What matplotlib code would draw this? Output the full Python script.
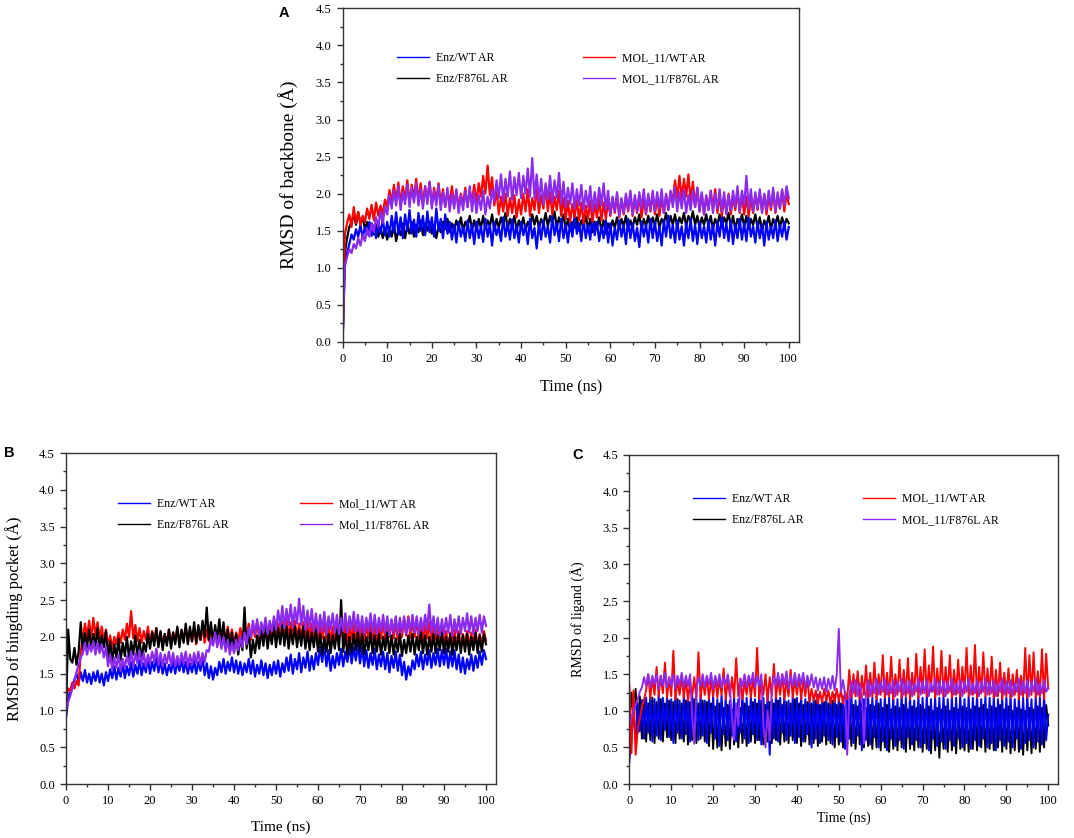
import numpy as np
import matplotlib
matplotlib.use('Agg')
import matplotlib.pyplot as plt
from matplotlib.lines import Line2D
from matplotlib.ticker import MultipleLocator

# 字型設定: Times 風格的襯線字
plt.rcParams['font.family'] = ['Liberation Serif', 'DejaVu Serif']
plt.rcParams['axes.unicode_minus'] = False

# ---- 資料 (RMSD, Å), 每 0.5 ns 一點, 0-100 ns ----
# Panel A: backbone
a_enz_wt = [
    0.00, 1.05, 1.20, 1.32, 1.45, 1.38, 1.52, 1.42, 1.58, 1.40, 1.55, 1.45, 1.62, 1.43, 1.57, 1.40, 1.60, 1.46, 1.66, 1.44,
    1.62, 1.42, 1.70, 1.48, 1.75, 1.45, 1.68, 1.40, 1.72, 1.50, 1.78, 1.46, 1.65, 1.42, 1.74, 1.50, 1.70, 1.44, 1.76, 1.48,
    1.68, 1.42, 1.80, 1.50, 1.66, 1.40, 1.72, 1.46, 1.62, 1.38, 1.58, 1.34, 1.62, 1.42, 1.55, 1.36, 1.64, 1.40, 1.58, 1.32,
    1.62, 1.40, 1.56, 1.35, 1.66, 1.42, 1.58, 1.30, 1.62, 1.44, 1.55, 1.36, 1.68, 1.42, 1.60, 1.38, 1.65, 1.40, 1.57, 1.34,
    1.62, 1.44, 1.58, 1.32, 1.66, 1.40, 1.54, 1.26, 1.60, 1.38, 1.64, 1.42, 1.56, 1.34, 1.70, 1.44, 1.60, 1.36, 1.66, 1.40,
    1.58, 1.34, 1.62, 1.42, 1.72, 1.46, 1.60, 1.36, 1.66, 1.40, 1.58, 1.38, 1.70, 1.44, 1.62, 1.36, 1.56, 1.40, 1.64, 1.34,
    1.60, 1.30, 1.55, 1.38, 1.64, 1.42, 1.58, 1.32, 1.66, 1.40, 1.60, 1.36, 1.54, 1.28, 1.62, 1.42, 1.58, 1.34, 1.66, 1.40,
    1.62, 1.36, 1.56, 1.30, 1.64, 1.42, 1.70, 1.40, 1.58, 1.34, 1.64, 1.38, 1.56, 1.30, 1.60, 1.40, 1.66, 1.36, 1.58, 1.32,
    1.62, 1.40, 1.56, 1.34, 1.64, 1.38, 1.58, 1.30, 1.62, 1.42, 1.70, 1.40, 1.60, 1.36, 1.64, 1.32, 1.58, 1.40, 1.66, 1.38,
    1.60, 1.36, 1.68, 1.42, 1.56, 1.34, 1.62, 1.40, 1.58, 1.30, 1.62, 1.38, 1.56, 1.40, 1.64, 1.36, 1.58, 1.42, 1.62, 1.38,
    1.55]
a_enz_f876l = [
    0.00, 1.20, 1.40, 1.55, 1.62, 1.72, 1.58, 1.75, 1.60, 1.68, 1.52, 1.62, 1.48, 1.60, 1.45, 1.58, 1.42, 1.55, 1.40, 1.52,
    1.38, 1.55, 1.42, 1.58, 1.36, 1.52, 1.44, 1.60, 1.40, 1.56, 1.46, 1.62, 1.42, 1.58, 1.48, 1.64, 1.44, 1.60, 1.50, 1.62,
    1.46, 1.58, 1.40, 1.56, 1.48, 1.62, 1.52, 1.66, 1.48, 1.60, 1.50, 1.64, 1.54, 1.68, 1.50, 1.62, 1.56, 1.70, 1.52, 1.64,
    1.50, 1.66, 1.54, 1.70, 1.52, 1.64, 1.56, 1.72, 1.50, 1.66, 1.54, 1.68, 1.58, 1.74, 1.52, 1.66, 1.56, 1.70, 1.50, 1.64,
    1.54, 1.68, 1.50, 1.62, 1.56, 1.72, 1.58, 1.70, 1.54, 1.66, 1.58, 1.74, 1.56, 1.70, 1.60, 1.76, 1.54, 1.68, 1.58, 1.72,
    1.52, 1.66, 1.50, 1.62, 1.54, 1.68, 1.50, 1.64, 1.56, 1.70, 1.52, 1.66, 1.48, 1.62, 1.54, 1.68, 1.50, 1.64, 1.46, 1.60,
    1.50, 1.64, 1.54, 1.68, 1.52, 1.66, 1.56, 1.70, 1.50, 1.64, 1.54, 1.68, 1.58, 1.72, 1.52, 1.66, 1.56, 1.70, 1.54, 1.68,
    1.58, 1.72, 1.54, 1.66, 1.60, 1.74, 1.56, 1.70, 1.58, 1.72, 1.54, 1.68, 1.60, 1.74, 1.56, 1.70, 1.62, 1.76, 1.58, 1.70,
    1.54, 1.68, 1.58, 1.72, 1.56, 1.70, 1.52, 1.66, 1.58, 1.72, 1.54, 1.68, 1.60, 1.74, 1.56, 1.70, 1.52, 1.66, 1.58, 1.72,
    1.56, 1.70, 1.52, 1.66, 1.58, 1.72, 1.54, 1.68, 1.50, 1.64, 1.56, 1.70, 1.52, 1.66, 1.58, 1.70, 1.54, 1.68, 1.56, 1.66,
    1.60]
a_mol_wt = [
    0.00, 1.45, 1.60, 1.72, 1.55, 1.82, 1.60, 1.75, 1.58, 1.70, 1.62, 1.80, 1.66, 1.85, 1.64, 1.88, 1.70, 1.84, 1.72, 1.92,
    1.82, 2.05, 1.88, 2.12, 1.90, 2.15, 1.86, 2.10, 1.92, 2.18, 1.88, 2.12, 1.94, 2.20, 1.90, 2.14, 1.86, 2.10, 1.92, 2.16,
    1.84, 2.08, 1.90, 2.14, 1.86, 2.06, 1.82, 2.02, 1.88, 2.10, 1.84, 2.04, 1.80, 2.00, 1.86, 2.08, 1.82, 2.04, 1.90, 2.12,
    1.88, 2.14, 1.96, 2.24, 2.00, 2.38, 1.98, 2.22, 1.84, 2.06, 1.72, 1.96, 1.76, 2.00, 1.70, 1.94, 1.74, 1.98, 1.68, 1.92,
    1.72, 2.00, 1.76, 2.06, 1.70, 1.94, 1.78, 2.08, 1.74, 1.98, 1.80, 2.10, 1.76, 2.02, 1.72, 1.96, 1.78, 2.04, 1.70, 1.94,
    1.66, 1.90, 1.62, 1.86, 1.68, 1.92, 1.64, 1.88, 1.60, 1.84, 1.66, 1.90, 1.62, 1.86, 1.68, 1.92, 1.64, 1.88, 1.66, 1.90,
    1.70, 1.94, 1.74, 1.98, 1.68, 1.92, 1.72, 1.96, 1.76, 2.00, 1.70, 1.94, 1.74, 1.98, 1.68, 1.92, 1.72, 1.96, 1.76, 2.00,
    1.72, 1.96, 1.70, 1.94, 1.74, 1.98, 1.78, 2.02, 1.90, 2.18, 1.94, 2.24, 1.92, 2.20, 1.96, 2.26, 1.90, 2.16, 1.82, 2.08,
    1.76, 2.00, 1.72, 1.96, 1.78, 2.04, 1.80, 2.06, 1.74, 1.98, 1.70, 1.94, 1.76, 2.00, 1.72, 1.96, 1.78, 2.02, 1.74, 1.98,
    1.72, 1.96, 1.70, 1.92, 1.74, 1.98, 1.78, 2.02, 1.76, 1.98, 1.72, 1.96, 1.78, 2.02, 1.74, 1.98, 1.80, 2.04, 1.76, 2.00,
    1.86]
a_mol_f876l = [
    0.00, 1.02, 1.15, 1.25, 1.20, 1.32, 1.26, 1.40, 1.30, 1.45, 1.36, 1.52, 1.42, 1.60, 1.48, 1.68, 1.55, 1.76, 1.60, 1.82,
    1.72, 1.98, 1.80, 2.04, 1.84, 2.10, 1.78, 2.02, 1.86, 2.12, 1.82, 2.08, 1.88, 2.14, 1.84, 2.06, 1.80, 2.10, 1.86, 2.16,
    1.80, 2.04, 1.84, 2.12, 1.78, 2.02, 1.82, 2.08, 1.76, 2.00, 1.80, 2.06, 1.74, 1.98, 1.78, 2.04, 1.82, 2.10, 1.76, 2.02,
    1.74, 1.98, 1.78, 2.04, 1.72, 1.96, 1.80, 2.06, 1.90, 2.18, 1.94, 2.26, 1.90, 2.20, 1.96, 2.30, 1.92, 2.22, 1.98, 2.28,
    1.94, 2.24, 2.00, 2.34, 1.96, 2.48, 1.94, 2.26, 1.90, 2.20, 1.86, 2.14, 1.92, 2.24, 1.88, 2.18, 1.94, 2.28, 1.86, 2.16,
    1.82, 2.08, 1.86, 2.14, 1.80, 2.06, 1.84, 2.12, 1.78, 2.04, 1.82, 2.10, 1.76, 2.02, 1.80, 2.08, 1.84, 2.14, 1.78, 2.04,
    1.72, 1.96, 1.76, 2.02, 1.70, 1.94, 1.74, 2.00, 1.78, 2.04, 1.72, 1.98, 1.76, 2.02, 1.80, 2.06, 1.74, 2.00, 1.78, 2.04,
    1.76, 2.02, 1.80, 2.06, 1.74, 2.00, 1.78, 2.04, 1.82, 2.08, 1.76, 2.02, 1.80, 2.06, 1.74, 1.98, 1.78, 2.04, 1.82, 2.08,
    1.76, 2.02, 1.72, 1.98, 1.78, 2.04, 1.74, 2.00, 1.80, 2.06, 1.76, 2.02, 1.72, 1.98, 1.78, 2.04, 1.82, 2.10, 1.76, 2.04,
    1.84, 2.24, 1.80, 2.06, 1.76, 2.02, 1.80, 2.06, 1.74, 2.00, 1.78, 2.04, 1.82, 2.08, 1.76, 2.02, 1.80, 2.06, 1.84, 2.10,
    1.94]

# Panel B: binding pocket
b_enz_wt = [
    0.90, 1.15, 1.28, 1.35, 1.42, 1.50, 1.38, 1.52, 1.40, 1.55, 1.38, 1.50, 1.36, 1.52, 1.40, 1.54, 1.38, 1.50, 1.34, 1.52,
    1.40, 1.56, 1.44, 1.60, 1.42, 1.58, 1.46, 1.64, 1.44, 1.60, 1.48, 1.66, 1.46, 1.62, 1.50, 1.68, 1.48, 1.64, 1.52, 1.70,
    1.50, 1.66, 1.54, 1.72, 1.52, 1.68, 1.50, 1.64, 1.48, 1.62, 1.52, 1.68, 1.50, 1.66, 1.54, 1.70, 1.52, 1.66, 1.50, 1.64,
    1.52, 1.68, 1.50, 1.66, 1.54, 1.72, 1.48, 1.64, 1.44, 1.60, 1.42, 1.58, 1.48, 1.66, 1.52, 1.70, 1.50, 1.66, 1.54, 1.72,
    1.52, 1.68, 1.50, 1.66, 1.48, 1.64, 1.52, 1.70, 1.50, 1.68, 1.46, 1.62, 1.50, 1.68, 1.48, 1.64, 1.44, 1.62, 1.48, 1.66,
    1.50, 1.68, 1.46, 1.64, 1.52, 1.72, 1.54, 1.76, 1.50, 1.70, 1.56, 1.78, 1.52, 1.72, 1.58, 1.80, 1.54, 1.74, 1.56, 1.78,
    1.62, 1.86, 1.66, 1.90, 1.60, 1.82, 1.54, 1.74, 1.58, 1.78, 1.62, 1.84, 1.60, 1.80, 1.66, 1.88, 1.64, 1.86, 1.68, 1.90,
    1.64, 1.86, 1.60, 1.82, 1.58, 1.78, 1.62, 1.84, 1.56, 1.76, 1.60, 1.80, 1.56, 1.78, 1.52, 1.74, 1.58, 1.80, 1.54, 1.76,
    1.48, 1.66, 1.42, 1.60, 1.48, 1.68, 1.56, 1.76, 1.60, 1.80, 1.56, 1.76, 1.62, 1.82, 1.58, 1.78, 1.62, 1.84, 1.60, 1.82,
    1.62, 1.84, 1.58, 1.80, 1.60, 1.82, 1.56, 1.76, 1.52, 1.72, 1.50, 1.70, 1.56, 1.76, 1.54, 1.74, 1.58, 1.80, 1.62, 1.82,
    1.70]
b_enz_f876l = [
    1.00, 2.10, 1.70, 1.65, 1.85, 1.62, 1.80, 2.20, 1.82, 2.05, 1.86, 2.10, 1.84, 2.04, 1.88, 2.12, 1.82, 2.02, 1.86, 2.08,
    1.70, 1.94, 1.66, 1.90, 1.72, 1.98, 1.68, 1.92, 1.74, 2.00, 1.70, 1.94, 1.76, 2.02, 1.72, 1.96, 1.68, 1.92, 1.80, 2.04,
    1.84, 2.06, 1.88, 2.12, 1.86, 2.08, 1.82, 2.04, 1.88, 2.10, 1.84, 2.06, 1.90, 2.14, 1.86, 2.10, 1.92, 2.18, 1.90, 2.14,
    1.94, 2.20, 1.92, 2.16, 1.96, 2.22, 2.00, 2.40, 1.96, 2.20, 1.92, 2.16, 1.96, 2.24, 1.94, 2.20, 1.88, 2.10, 1.84, 2.06,
    1.80, 2.04, 1.76, 2.00, 1.82, 2.40, 1.84, 2.08, 1.72, 1.96, 1.78, 2.02, 1.84, 2.10, 1.88, 2.14, 1.84, 2.08, 1.90, 2.16,
    1.86, 2.12, 1.90, 2.16, 1.88, 2.14, 1.84, 2.10, 1.90, 2.14, 1.86, 2.10, 1.88, 2.14, 1.84, 2.08, 1.82, 2.06, 1.86, 2.10,
    1.80, 2.04, 1.76, 2.00, 1.80, 2.04, 1.78, 2.02, 1.84, 2.10, 1.82, 2.50, 1.80, 2.04, 1.76, 2.00, 1.78, 2.04, 1.82, 2.06,
    1.80, 2.04, 1.76, 2.00, 1.82, 2.06, 1.78, 2.02, 1.80, 2.04, 1.76, 2.00, 1.82, 2.06, 1.78, 2.02, 1.76, 1.98, 1.80, 2.04,
    1.74, 1.96, 1.78, 2.02, 1.80, 2.04, 1.76, 2.00, 1.82, 2.06, 1.78, 2.02, 1.76, 2.00, 1.80, 2.04, 1.78, 2.02, 1.82, 2.06,
    1.78, 2.00, 1.80, 2.04, 1.76, 2.00, 1.82, 2.04, 1.78, 2.02, 1.80, 2.04, 1.76, 2.00, 1.82, 2.06, 1.78, 2.02, 1.80, 2.04,
    1.90]
b_mol_wt = [
    1.20, 1.30, 1.26, 1.38, 1.30, 1.40, 1.34, 1.80, 1.98, 2.18, 2.00, 2.22, 1.96, 2.26, 2.02, 2.20, 1.98, 2.14, 1.94, 2.10,
    1.86, 2.02, 1.84, 2.00, 1.90, 2.06, 1.92, 2.10, 1.96, 2.18, 2.00, 2.35, 1.98, 2.16, 1.94, 2.12, 1.92, 2.08, 1.96, 2.14,
    1.90, 2.08, 1.94, 2.12, 1.90, 2.06, 1.88, 2.04, 1.92, 2.10, 1.90, 2.06, 1.94, 2.12, 1.92, 2.08, 1.96, 2.14, 1.92, 2.10,
    1.94, 2.12, 1.90, 2.08, 1.96, 2.14, 1.92, 2.10, 1.94, 2.12, 1.90, 2.06, 1.94, 2.12, 1.92, 2.08, 1.96, 2.14, 1.94, 2.10,
    1.90, 2.06, 1.94, 2.12, 1.96, 2.14, 1.98, 2.18, 1.96, 2.16, 2.00, 2.20, 1.98, 2.18, 2.02, 2.22, 1.98, 2.16, 2.00, 2.20,
    1.96, 2.18, 2.00, 2.22, 2.02, 2.24, 1.98, 2.20, 2.00, 2.22, 1.96, 2.18, 1.98, 2.20, 2.00, 2.24, 1.96, 2.18, 1.98, 2.20,
    1.94, 2.16, 1.98, 2.20, 1.96, 2.18, 1.92, 2.14, 1.96, 2.18, 1.94, 2.16, 1.98, 2.20, 1.94, 2.14, 1.96, 2.18, 1.92, 2.14,
    1.96, 2.18, 1.94, 2.16, 1.98, 2.20, 1.96, 2.18, 1.94, 2.16, 1.98, 2.22, 1.96, 2.18, 2.00, 2.22, 1.98, 2.20, 1.96, 2.18,
    2.00, 2.24, 2.02, 2.28, 1.98, 2.22, 2.00, 2.24, 1.96, 2.18, 1.94, 2.16, 1.98, 2.20, 1.92, 2.14, 1.96, 2.18, 1.90, 2.12,
    1.88, 2.08, 1.86, 2.06, 1.90, 2.10, 1.88, 2.08, 1.84, 2.04, 1.88, 2.08, 1.86, 2.06, 1.90, 2.10, 1.86, 2.04, 1.88, 2.08,
    1.95]
b_mol_f876l = [
    1.00, 1.12, 1.20, 1.30, 1.40, 1.52, 1.62, 1.72, 1.78, 1.92, 1.76, 1.90, 1.80, 1.94, 1.76, 1.92, 1.78, 1.90, 1.72, 1.86,
    1.60, 1.76, 1.56, 1.72, 1.58, 1.76, 1.54, 1.70, 1.58, 1.74, 1.62, 1.80, 1.60, 1.78, 1.64, 1.82, 1.62, 1.78, 1.60, 1.76,
    1.64, 1.80, 1.66, 1.84, 1.62, 1.78, 1.60, 1.76, 1.64, 1.80, 1.62, 1.78, 1.60, 1.74, 1.62, 1.78, 1.64, 1.80, 1.60, 1.76,
    1.62, 1.78, 1.64, 1.80, 1.62, 1.78, 1.66, 1.82, 1.80, 1.98, 1.88, 2.06, 1.86, 2.02, 1.84, 2.00, 1.80, 1.96, 1.76, 1.92,
    1.78, 1.96, 1.82, 2.00, 1.86, 2.06, 1.90, 2.12, 2.00, 2.22, 2.04, 2.24, 2.02, 2.20, 2.06, 2.26, 2.04, 2.22, 2.08, 2.28,
    2.10, 2.36, 2.14, 2.42, 2.12, 2.38, 2.16, 2.44, 2.14, 2.40, 2.18, 2.52, 2.16, 2.42, 2.10, 2.36, 2.12, 2.38, 2.08, 2.32,
    2.06, 2.30, 2.08, 2.34, 2.04, 2.28, 2.10, 2.32, 2.06, 2.30, 2.04, 2.26, 2.08, 2.32, 2.06, 2.28, 2.10, 2.34, 2.08, 2.30,
    2.06, 2.28, 2.04, 2.26, 2.08, 2.32, 2.06, 2.30, 2.04, 2.26, 2.08, 2.30, 2.06, 2.28, 2.02, 2.24, 2.06, 2.28, 2.04, 2.26,
    2.06, 2.28, 2.04, 2.26, 2.08, 2.30, 2.06, 2.28, 2.04, 2.26, 2.08, 2.30, 2.10, 2.44, 2.06, 2.28, 2.04, 2.26, 2.02, 2.24,
    2.04, 2.26, 2.06, 2.30, 2.02, 2.24, 2.06, 2.28, 2.04, 2.26, 2.08, 2.32, 2.06, 2.28, 2.04, 2.26, 2.08, 2.30, 2.06, 2.28,
    2.15]

# Panel C: ligand
c_enz_wt = [
    0.30, 0.70, 0.95, 0.60, 1.10, 0.72, 1.15, 0.62, 1.18, 0.70, 1.20, 0.58, 1.16, 0.66, 1.22, 0.60, 1.18, 0.74, 1.20, 0.64,
    1.16, 0.56, 1.20, 0.70, 1.14, 0.62, 1.22, 0.68, 1.18, 0.58, 1.20, 0.72, 1.16, 0.60, 1.22, 0.66, 1.14, 0.56, 1.18, 0.70,
    1.20, 0.62, 1.16, 0.52, 1.22, 0.68, 1.18, 0.60, 1.14, 0.66, 1.20, 0.58, 1.16, 0.70, 1.22, 0.62, 1.18, 0.56, 1.20, 0.68,
    1.16, 0.60, 1.22, 0.54, 1.18, 0.66, 1.20, 0.40, 1.16, 0.62, 1.22, 0.58, 1.18, 0.70, 1.20, 0.60, 1.14, 0.66, 1.20, 0.56,
    1.18, 0.64, 1.22, 0.58, 1.16, 0.68, 1.20, 0.50, 1.18, 0.62, 1.22, 0.56, 1.16, 0.66, 1.20, 0.60, 1.18, 0.54, 1.22, 0.64,
    1.16, 0.58, 1.20, 0.48, 1.18, 0.62, 1.22, 0.56, 1.14, 0.66, 1.20, 0.46, 1.16, 0.60, 1.22, 0.54, 1.18, 0.64, 1.20, 0.50,
    1.16, 0.58, 1.22, 0.46, 1.18, 0.62, 1.20, 0.52, 1.16, 0.60, 1.22, 0.48, 1.18, 0.64, 1.20, 0.54, 1.14, 0.60, 1.20, 0.50,
    1.18, 0.56, 1.22, 0.46, 1.16, 0.62, 1.20, 0.52, 1.18, 0.58, 1.22, 0.48, 1.16, 0.60, 1.20, 0.52, 1.18, 0.62, 1.22, 0.50,
    1.16, 0.56, 1.20, 0.48, 1.18, 0.60, 1.22, 0.52, 1.16, 0.62, 1.20, 0.50, 1.18, 0.56, 1.22, 0.46, 1.16, 0.60, 1.20, 0.52,
    1.18, 0.58, 1.22, 0.50, 1.16, 0.62, 1.20, 0.48, 1.18, 0.56, 1.22, 0.60, 1.16, 0.50, 1.20, 0.58, 1.18, 0.54, 1.22, 0.60,
    0.95]
c_enz_f876l = [
    0.80, 1.25, 0.90, 1.30, 0.70, 1.20, 0.62, 1.15, 0.58, 1.10, 0.60, 1.18, 0.56, 1.12, 0.62, 1.16, 0.58, 1.10, 0.64, 1.14,
    0.60, 1.12, 0.56, 1.16, 0.62, 1.10, 0.58, 1.14, 0.54, 1.12, 0.60, 1.16, 0.56, 1.10, 0.62, 1.14, 0.58, 1.12, 0.52, 1.10,
    0.48, 1.06, 0.50, 1.10, 0.46, 1.04, 0.52, 1.08, 0.48, 1.02, 0.54, 1.08, 0.50, 1.04, 0.56, 1.10, 0.52, 1.06, 0.58, 1.12,
    0.56, 1.10, 0.60, 1.14, 0.54, 1.08, 0.58, 1.12, 0.56, 1.10, 0.60, 1.14, 0.54, 1.08, 0.58, 1.12, 0.56, 1.10, 0.60, 1.16,
    0.56, 1.10, 0.52, 1.08, 0.58, 1.12, 0.54, 1.10, 0.56, 1.14, 0.52, 1.08, 0.58, 1.12, 0.54, 1.10, 0.56, 1.14, 0.50, 1.08,
    0.54, 1.10, 0.50, 1.06, 0.56, 1.12, 0.52, 1.08, 0.48, 1.06, 0.54, 1.10, 0.50, 1.04, 0.52, 1.08, 0.48, 1.06, 0.50, 1.10,
    0.46, 1.04, 0.50, 1.08, 0.44, 1.02, 0.48, 1.06, 0.46, 1.04, 0.50, 1.08, 0.44, 1.02, 0.48, 1.06, 0.46, 1.04, 0.50, 1.08,
    0.44, 1.02, 0.48, 1.06, 0.42, 1.00, 0.46, 1.04, 0.36, 1.02, 0.48, 1.06, 0.44, 1.00, 0.46, 1.04, 0.42, 1.02, 0.48, 1.06,
    0.46, 1.04, 0.44, 1.02, 0.48, 1.06, 0.46, 1.04, 0.50, 1.08, 0.44, 1.02, 0.48, 1.06, 0.46, 1.04, 0.50, 1.08, 0.44, 1.02,
    0.48, 1.06, 0.42, 1.00, 0.46, 1.04, 0.44, 1.02, 0.40, 1.00, 0.46, 1.04, 0.42, 1.02, 0.48, 1.06, 0.44, 1.04, 0.50, 1.08,
    0.80]
c_mol_wt = [
    1.35, 0.42, 1.28, 0.40, 0.75, 0.90, 1.05, 1.15, 1.28, 1.50, 1.18, 1.45, 1.22, 1.60, 1.20, 1.48, 1.24, 1.66, 1.18, 1.46,
    1.20, 1.82, 1.16, 1.42, 1.22, 1.48, 1.18, 1.44, 1.14, 1.40, 1.20, 1.46, 1.16, 1.80, 1.18, 1.44, 1.22, 1.48, 1.16, 1.42,
    1.20, 1.46, 1.18, 1.44, 1.22, 1.58, 1.16, 1.42, 1.20, 1.46, 1.18, 1.72, 1.20, 1.44, 1.16, 1.40, 1.22, 1.48, 1.18, 1.44,
    1.20, 1.86, 1.16, 1.42, 1.22, 1.50, 1.14, 1.46, 1.20, 1.64, 1.18, 1.44, 1.22, 1.50, 1.16, 1.42, 1.20, 1.56, 1.18, 1.44,
    1.22, 1.48, 1.16, 1.42, 1.20, 1.46, 1.12, 1.30, 1.14, 1.28, 1.10, 1.26, 1.12, 1.30, 1.14, 1.28, 1.10, 1.26, 1.12, 1.30,
    1.14, 1.28, 1.10, 1.26, 1.16, 1.56, 1.18, 1.50, 1.20, 1.54, 1.16, 1.48, 1.22, 1.62, 1.18, 1.52, 1.20, 1.66, 1.16, 1.50,
    1.22, 1.76, 1.18, 1.52, 1.20, 1.74, 1.16, 1.50, 1.22, 1.70, 1.18, 1.56, 1.20, 1.72, 1.16, 1.52, 1.22, 1.78, 1.18, 1.60,
    1.24, 1.84, 1.20, 1.62, 1.26, 1.88, 1.18, 1.58, 1.22, 1.82, 1.20, 1.60, 1.24, 1.76, 1.18, 1.56, 1.22, 1.70, 1.20, 1.60,
    1.24, 1.86, 1.20, 1.62, 1.22, 1.90, 1.18, 1.60, 1.24, 1.80, 1.20, 1.58, 1.22, 1.74, 1.18, 1.56, 1.20, 1.66, 1.16, 1.52,
    1.20, 1.58, 1.18, 1.50, 1.22, 1.56, 1.16, 1.48, 1.20, 1.86, 1.18, 1.76, 1.22, 1.80, 1.18, 1.54, 1.20, 1.84, 1.16, 1.78,
    1.30]
c_mol_f876l = [
    0.80, 0.92, 1.00, 1.08, 1.16, 1.26, 1.32, 1.46, 1.34, 1.50, 1.32, 1.48, 1.36, 1.50, 1.30, 1.48, 1.34, 1.52, 1.32, 1.46,
    1.34, 1.50, 1.30, 1.48, 1.36, 1.52, 1.32, 1.48, 1.34, 1.50, 0.90, 0.55, 1.30, 1.46, 1.34, 1.50, 1.32, 1.48, 1.36, 1.52,
    1.30, 1.48, 1.34, 1.50, 1.32, 1.46, 1.36, 1.50, 1.30, 0.90, 0.60, 1.10, 0.80, 1.44, 1.34, 1.50, 1.32, 1.48, 1.36, 1.52,
    1.32, 1.48, 1.34, 1.50, 0.80, 0.50, 1.00, 0.60, 1.30, 1.48, 1.34, 1.52, 1.32, 1.50, 1.36, 1.54, 1.30, 1.48, 1.34, 1.52,
    1.32, 1.50, 1.36, 1.52, 1.30, 1.48, 1.34, 1.50, 1.32, 1.46, 1.28, 1.44, 1.30, 1.46, 1.26, 1.44, 1.30, 1.48, 1.28, 1.50,
    2.12, 1.26, 1.42, 1.22, 0.40, 1.20, 1.40, 1.24, 1.42, 1.20, 1.38, 1.22, 0.55, 1.26, 1.42, 1.20, 1.38, 1.24, 1.44, 1.22,
    1.40, 1.26, 1.44, 1.22, 1.38, 1.24, 1.42, 1.20, 1.40, 1.26, 1.44, 1.22, 1.40, 1.24, 1.42, 1.20, 1.38, 1.26, 1.44, 1.22,
    1.40, 1.24, 1.42, 1.20, 1.38, 1.26, 1.44, 1.22, 1.40, 1.24, 1.42, 1.20, 1.40, 1.26, 1.44, 1.22, 1.38, 1.24, 1.42, 1.20,
    1.40, 1.26, 1.44, 1.22, 1.38, 1.24, 1.42, 1.20, 1.40, 1.26, 1.44, 1.22, 1.40, 1.24, 1.42, 1.20, 1.38, 1.26, 1.44, 1.22,
    1.40, 1.24, 1.42, 1.20, 1.38, 1.26, 1.44, 1.22, 1.40, 1.24, 1.42, 1.20, 1.40, 1.26, 1.44, 1.22, 1.38, 1.24, 1.42, 1.26,
    1.32]

# 顏色
c_blue = '#0000ff'
c_black = '#000000'
c_red = '#ff0000'
c_purple = '#8b2bf0'

lbl_enz_wt = 'Enz/WT AR'
lbl_enz_f876l = 'Enz/F876L AR'


def style_axis(ax, ylabel, ylabel_size, xlabel_size, xlabel_y):
    ax.set_xlim(0, 102.3)
    ax.set_ylim(0, 4.5)
    ax.xaxis.set_major_locator(MultipleLocator(10))
    ax.xaxis.set_minor_locator(MultipleLocator(5))
    ax.yaxis.set_major_locator(MultipleLocator(0.5))
    ax.yaxis.set_minor_locator(MultipleLocator(0.25))
    ax.yaxis.set_major_formatter(plt.FuncFormatter(lambda v, p: f'{v:.1f}'))
    ax.tick_params(which='both', direction='out', top=False, right=False, labelsize=9, width=1.0, color='#333333')
    ax.tick_params(which='major', length=4.5)
    ax.tick_params(which='minor', length=2.5)
    for s in ax.spines.values():
        s.set_linewidth(1.0)
        s.set_color('#333333')
    ax.set_xlabel('Time (ns)', fontsize=xlabel_size)
    ax.xaxis.set_label_coords(0.5, xlabel_y)
    ax.xaxis.label.set_va('center')
    ax.set_ylabel(ylabel, fontsize=ylabel_size)
    ax.yaxis.set_label_coords(-0.12, 0.5)
    ax.yaxis.label.set_va('center')


def add_legends(ax, labels_left, labels_right, x_left, x_right, y_mid):
    h_left = [Line2D([], [], color=c_blue, lw=1.0), Line2D([], [], color=c_black, lw=1.0)]
    h_right = [Line2D([], [], color=c_red, lw=1.0), Line2D([], [], color=c_purple, lw=1.0)]
    legs = []
    for handles, labels, x in [(h_left, labels_left, x_left), (h_right, labels_right, x_right)]:
        leg = ax.legend(handles, labels, loc='center left', bbox_to_anchor=(x, y_mid),
                        frameon=False, fontsize=8.5, handlelength=2.7, handletextpad=0.6,
                        labelspacing=0.8, borderpad=0, borderaxespad=0)
        legs.append(leg)
    # 第一個圖例需要手動加回去, 第二個是 ax.legend_ 本身
    ax.add_artist(legs[0])


def draw(ax, series, lw):
    for values, color in series:
        t = np.linspace(0, 100, len(values))
        ax.plot(t, values, color=color, lw=lw)


fig = plt.figure(figsize=(10.74, 8.38), dpi=100)

# ---- A ----
ax_a = fig.add_axes([0.319, 0.592, 0.425, 0.398])
draw(ax_a, [(a_enz_f876l, c_black), (a_enz_wt, c_blue), (a_mol_wt, c_red), (a_mol_f876l, c_purple)], 1.6)
style_axis(ax_a, 'RMSD of backbone (Å)', 14, 11.5, -0.135)
add_legends(ax_a, [lbl_enz_wt, lbl_enz_f876l], ['MOL_11/WT AR', 'MOL_11/F876L AR'], 0.119, 0.527, 0.82)

# ---- B ----
ax_b = fig.add_axes([0.0615, 0.0644, 0.400, 0.395])
draw(ax_b, [(b_enz_wt, c_blue), (b_mol_wt, c_red), (b_enz_f876l, c_black), (b_mol_f876l, c_purple)], 1.6)
style_axis(ax_b, 'RMSD of bingding pocket (Å)', 12, 11, -0.13)
add_legends(ax_b, [lbl_enz_wt, lbl_enz_f876l], ['Mol_11/WT AR', 'Mol_11/F876L AR'], 0.121, 0.545, 0.814)

# ---- C ----
ax_c = fig.add_axes([0.586, 0.0644, 0.399, 0.393])
draw(ax_c, [(c_enz_f876l, c_black), (c_enz_wt, c_blue), (c_mol_wt, c_red), (c_mol_f876l, c_purple)], 1.4)
style_axis(ax_c, 'RMSD of ligand (Å)', 10, 10, -0.103)
add_legends(ax_c, [lbl_enz_wt, lbl_enz_f876l], ['MOL_11/WT AR', 'MOL_11/F876L AR'], 0.149, 0.545, 0.834)

# 面板標號
for letter, x, y in [('A', 0.2644, 0.984), ('B', 0.0084, 0.4594), ('C', 0.538, 0.457)]:
    fig.text(x, y, letter, ha='center', va='center', fontsize=10.5, fontweight='bold',
             family=['Liberation Sans', 'DejaVu Sans'])

fig.savefig('out.png', dpi=100)
print('saved out.png')
